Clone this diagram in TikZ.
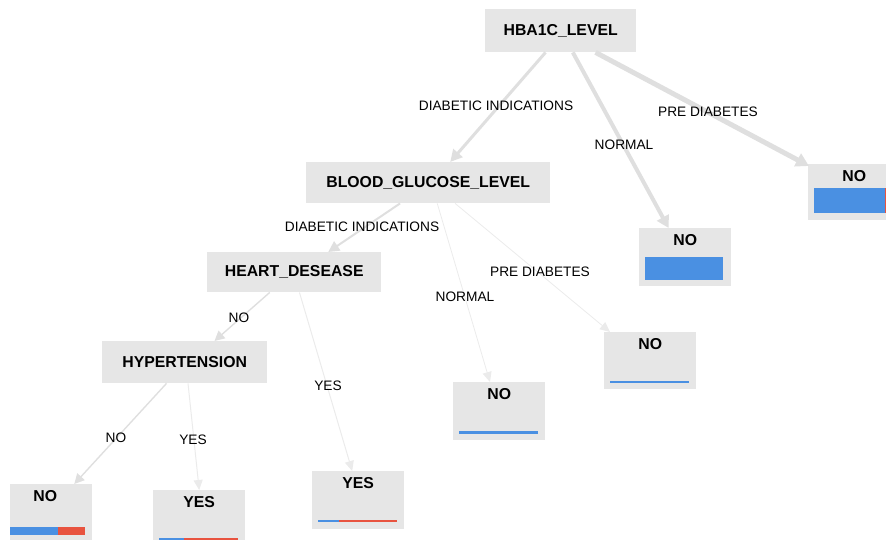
\documentclass[tikz,border=0pt]{standalone}
\usepackage{fontspec}
\setmainfont{Liberation Sans}
\usetikzlibrary{arrows.meta,calc}
\definecolor{boxgray}{HTML}{E6E6E6}
\definecolor{edgegray}{HTML}{DFDFDF}
\definecolor{edgelight}{HTML}{EBEBEB}
\definecolor{barblue}{HTML}{4A90E2}
\definecolor{barred}{HTML}{E8533F}
\begin{document}
\begin{tikzpicture}[x=1pt,y=-1pt,
  splitbox/.style={fill=boxgray, inner sep=0pt, anchor=north west,
    font=\fontsize{15.8}{18}\selectfont\bfseries},
  leafbox/.style={fill=boxgray, inner sep=0pt, anchor=north west, minimum width=92pt,
    text height=17pt, font=\fontsize{15.8}{18}\selectfont\bfseries},
  elabel/.style={inner sep=1pt, font=\fontsize{13.7}{16}\selectfont},
  edgebase/.style={draw=#1, -{Triangle[length=11pt,width=11pt]}},
  edgebase/.default=edgegray
]
\useasboundingbox (0,0) rectangle (886,540);
\clip (0,0) rectangle (886,540);

% split nodes
\node[splitbox, minimum width=151pt, minimum height=43pt] (hba) at (485,9) {HBA1C\_LEVEL};
\node[splitbox, minimum width=244pt, minimum height=41pt] (bg) at (306,162) {BLOOD\_GLUCOSE\_LEVEL};
\node[splitbox, minimum width=174pt, minimum height=40pt] (hd) at (207,252) {HEART\_DESEASE};
\node[splitbox, minimum width=165pt, minimum height=42pt] (ht) at (102,341) {HYPERTENSION};

% leaf nodes
\node[leafbox, text depth=39pt] (lpre) at (808,164) {NO};
\node[leafbox, text depth=41pt] (lnorm) at (639,228) {NO};
\node[leafbox, text depth=40pt] (bpre) at (604,332) {NO};
\node[leafbox, text depth=41pt] (bnorm) at (453,382) {NO};
\node[leafbox, text depth=41pt] (hyes) at (312,471) {YES};
\node[leafbox, minimum width=82pt, text depth=60pt] (tno) at (10,484) {NO\hspace*{12pt}};
\node[leafbox, text depth=60pt] (tyes) at (153,490) {YES};

% class bars
\fill[barblue] (814,188) rectangle (885,213);
\fill[barred] (885,188) rectangle (893,213);
\fill[barblue] (645,257) rectangle (723,280);
\fill[barblue] (610,381) rectangle (689,383.3);
\fill[barblue] (459,431) rectangle (538,433.5);
\fill[barblue] (318,520) rectangle (339,522.3);
\fill[barred] (339,520) rectangle (397,522.3);
\fill[barblue] (10,527) rectangle (58,535);
\fill[barred] (58,527) rectangle (85,535);
\fill[barblue] (159,538) rectangle (184,540);
\fill[barred] (184,538) rectangle (238,540);

% edges from HBA1C_LEVEL
\draw[edgebase, line width=3pt, -{Triangle[length=12pt,width=12pt]}]
  ($(hba.south west)!0.40!(hba.south east)$) -- ($(bg.north west)!0.59!(bg.north east)$);
\draw[edgebase, line width=4pt, -{Triangle[length=12pt,width=13pt]}]
  ($(hba.south west)!0.58!(hba.south east)$) -- ($(lnorm.north west)!0.32!(lnorm.north east)$);
\draw[edgebase, line width=5pt, -{Triangle[length=13pt,width=14pt]}]
  ($(hba.south west)!0.73!(hba.south east)$) -- ($(lpre.north west)+(1,2)$);

% edges from BLOOD_GLUCOSE_LEVEL
\draw[edgebase, line width=2pt]
  ($(bg.south west)!0.385!(bg.south east)$) -- ($(hd.north west)!0.695!(hd.north east)$);
\draw[edgebase=edgelight, line width=0.8pt, -{Triangle[length=10pt,width=9pt]}]
  ($(bg.south west)!0.537!(bg.south east)$) -- ($(bnorm.north west)!0.40!(bnorm.north east)$);
\draw[edgebase=edgelight, line width=0.8pt, -{Triangle[length=10pt,width=9pt]}]
  ($(bg.south west)!0.61!(bg.south east)$) -- ($(bpre.north west)!0.065!(bpre.north east)$);

% edges from HEART_DESEASE
\draw[edgebase, line width=1.4pt, -{Triangle[length=10pt,width=10pt]}]
  ($(hd.south west)!0.36!(hd.south east)$) -- ($(ht.north west)!0.68!(ht.north east)$);
\draw[edgebase=edgelight, line width=1pt, -{Triangle[length=10pt,width=9pt]}]
  ($(hd.south west)!0.53!(hd.south east)$) -- ($(hyes.north west)!0.435!(hyes.north east)$);

% edges from HYPERTENSION
\draw[edgebase, line width=1.4pt, -{Triangle[length=10pt,width=10pt]}]
  ($(ht.south west)!0.39!(ht.south east)$) -- ($(tno.north west)!0.78!(tno.north east)$);
\draw[edgebase=edgelight, line width=1pt, -{Triangle[length=10pt,width=9pt]}]
  ($(ht.south west)!0.52!(ht.south east)$) -- ($(tyes.north west)!0.50!(tyes.north east)$);

% edge labels
\node[elabel] (l1) at (496,106) {DIABETIC INDICATIONS};
\node[elabel] (l2) at (624,145) {NORMAL};
\node[elabel] (l3) at (708,112) {PRE DIABETES};
\node[elabel] (l4) at (362,227) {DIABETIC INDICATIONS};
\node[elabel] (l5) at (540,272) {PRE DIABETES};
\node[elabel] (l6) at (465,297) {NORMAL};
\node[elabel] (l7) at (239,318) {NO};
\node[elabel] (l8) at (328,386) {YES};
\node[elabel] (l9) at (116,438) {NO};
\node[elabel] (l10) at (193,440) {YES};
\end{tikzpicture}
\end{document}
